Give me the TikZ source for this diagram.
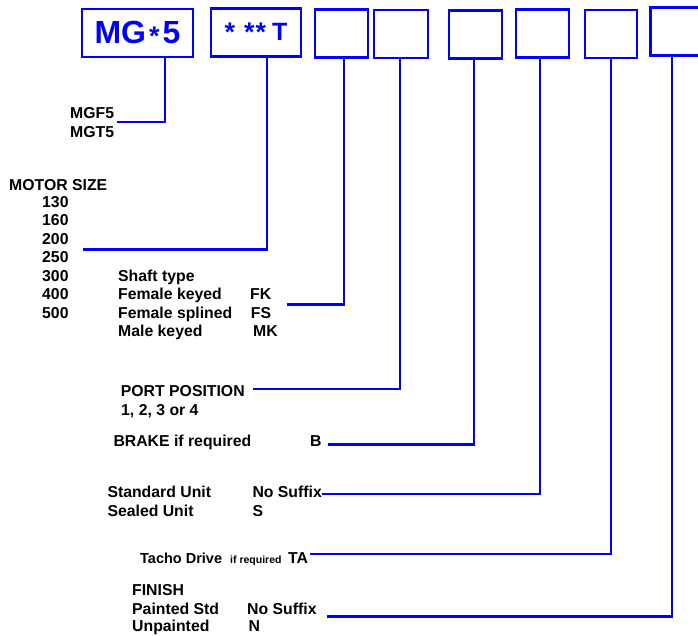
\documentclass[tikz,border=0pt]{standalone}
\usepackage{fontspec}
\setmainfont{Liberation Sans}
\usetikzlibrary{positioning}
\definecolor{codeblue}{RGB}{0,0,255}
\newcommand{\bigstar}[1]{\raisebox{#1}{\fontsize{27}{27}\selectfont *}}
\tikzset{
	codebox/.style={draw=codeblue, line width=2.6pt, minimum height=48pt, inner sep=0pt, text=codeblue},
	link/.style={draw=codeblue, line width=2.8pt},
	lbl/.style={anchor=base west, inner sep=0pt, font=\bfseries\fontsize{15.8}{18.5}\selectfont},
}
\begin{document}
\begin{tikzpicture}[x=1pt, y=-1pt]
				\useasboundingbox (0,0) rectangle (698,635);
				% code boxes
				\node (mg) [codebox, minimum width=111pt, font=\bfseries\fontsize{32}{32}\selectfont] at (137.5,33) {MG\hspace{3pt}\bigstar{-2pt}\hspace{3pt}5};
				\node (size) [codebox, minimum width=90pt, font=\bfseries\fontsize{25}{25}\selectfont] at (256,32.5) {\bigstar{-1pt}\hspace{9pt}\bigstar{-1pt}\hspace{1pt}\bigstar{-1pt}\hspace{6pt}T};
				\node (shaft) [codebox, minimum width=53pt] at (341.5,33.5) {};
				\node (port) [codebox, minimum width=54pt] at (401,34) {};
				\node (brake) [codebox, minimum width=53pt] at (475.5,34.5) {};
				\node (seal) [codebox, minimum width=53pt] at (542.5,33.5) {};
				\node (tacho) [codebox, minimum width=52pt] at (611,34) {};
				\node (finish) [codebox, minimum width=56pt] at (678.5,31.5) {};
				% texts
				\node (mgf) [lbl] at (70,118.3) {MGF5};
				\node (mgt) [lbl] at (70,137) {MGT5};
				\node (motor) [lbl] at (9,190.7) {MOTOR SIZE};
				\foreach \s [count=\i] in {130,160,200,250,300,400,500}
					\node (ms\i) [lbl] at (42,188.8+18.5*\i) {\s};
				\node (shafttype) [lbl] at (118,281) {Shaft type};
				\node (fk) [lbl] at (118,299.5) {Female keyed};
				\node (fs) [lbl] at (118,318) {Female splined};
				\node (mk) [lbl] at (118,336.5) {Male keyed};
				\node (fkc) [lbl] at (250,299.5) {FK};
				\node (fsc) [lbl] at (250.7,318) {FS};
				\node (mkc) [lbl] at (253,336.5) {MK};
				\node (portpos) [lbl] at (120.7,396.7) {PORT POSITION};
				\node (portnum) [lbl] at (121,415) {1, 2, 3 or 4};
				\node (brakereq) [lbl] at (113.3,446.7) {BRAKE if required};
				\node (brakec) [lbl] at (310,446.7) {B};
				\node (std) [lbl] at (107.3,497.3) {Standard Unit};
				\node (stdc) [lbl] at (252.3,497.3) {No Suffix};
				\node (sealed) [lbl] at (107.3,516.7) {Sealed Unit};
				\node (sealedc) [lbl] at (252.3,516.7) {S};
				\node (tachodrive) [lbl, font=\bfseries\fontsize{14.5}{18.5}\selectfont] at (140,563.3) {Tacho Drive};
				\node (tachoreq) [lbl, font=\bfseries\fontsize{10.5}{12}\selectfont] at (230,563.3) {if required};
				\node (tachoc) [lbl] at (288,563.3) {TA};
				\node (fin) [lbl] at (132,595.5) {FINISH};
				\node (painted) [lbl] at (132,614) {Painted Std};
				\node (paintedc) [lbl] at (247,614) {No Suffix};
				\node (unpainted) [lbl] at (132,631.5) {Unpainted};
				\node (unpaintedc) [lbl] at (248.5,631.5) {N};
				% connector ends
				\coordinate (e1) at (117,122);
				\coordinate (e2) at (83,249.3);
				\coordinate (e3) at (287,304.3);
				\coordinate (e4) at (253,389);
				\coordinate (e5) at (328,444.3);
				\coordinate (e6) at (322,494);
				\coordinate (e7) at (310,554);
				\coordinate (e8) at (327,616.3);
				% connectors
				\draw[link] (mg.south) ++(27.5,0) |- (e1);
				\draw[link] (size.south) ++(11,0) |- (e2);
				\draw[link] (shaft.south) ++(2.5,0) |- (e3);
				\draw[link] (port.south) ++(-1,0) |- (e4);
				\draw[link] (brake.south) ++(-1.5,0) |- (e5);
				\draw[link] (seal.south) ++(-2.5,0) |- (e6);
				\draw[link] (tacho.south) |- (e7);
				\draw[link] (finish.south) ++(-6.5,0) |- (e8);
\end{tikzpicture}
\end{document}
